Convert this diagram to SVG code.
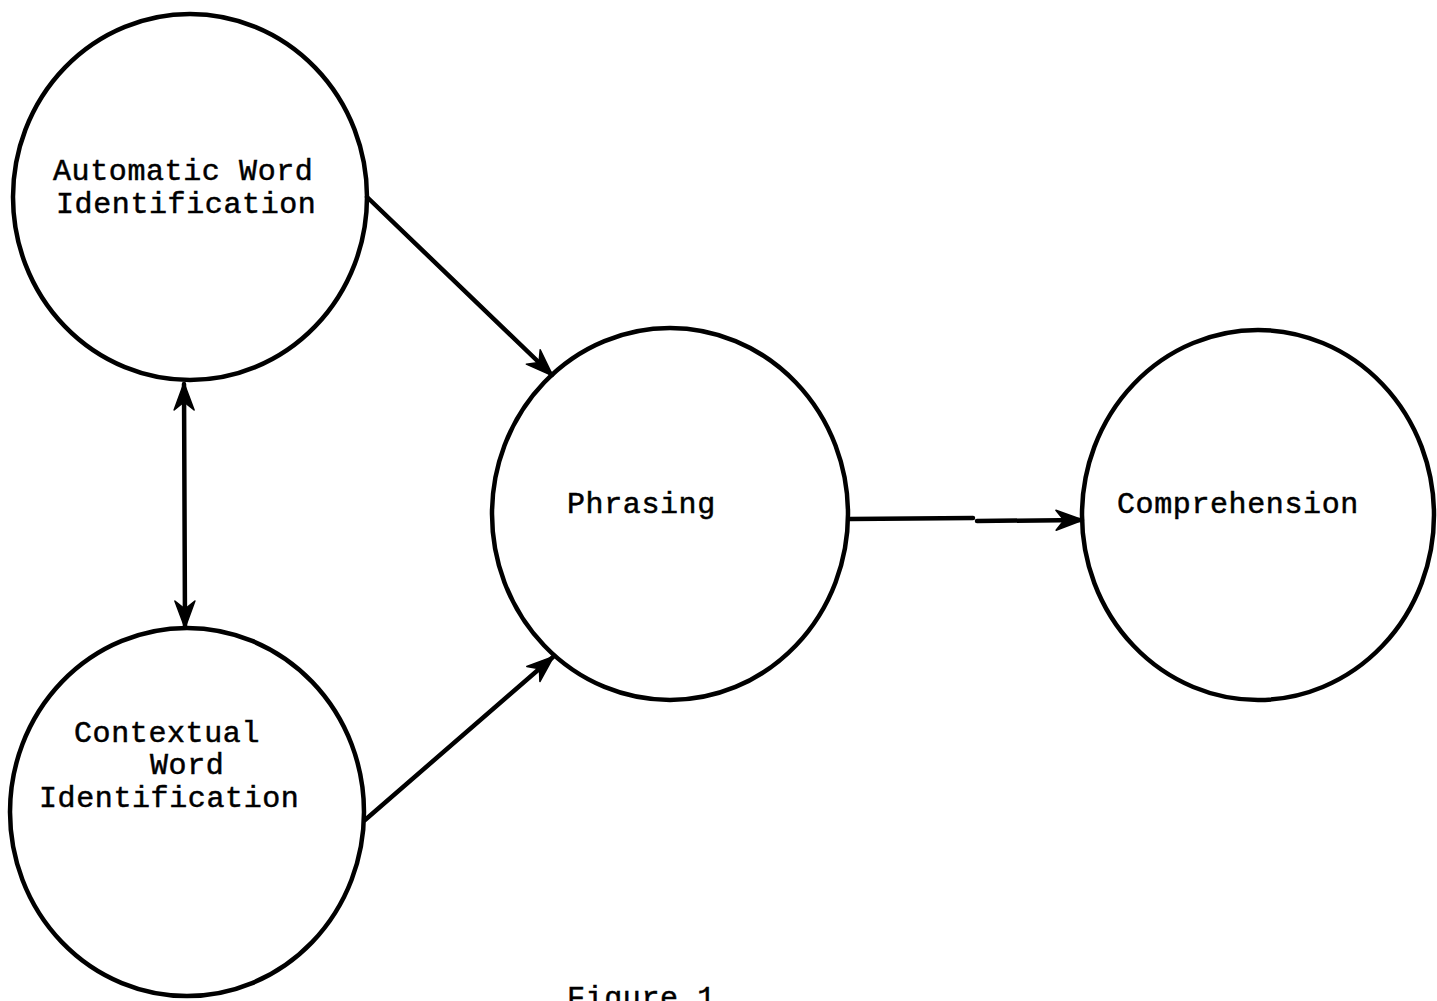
<svg xmlns="http://www.w3.org/2000/svg" width="1437" height="1001" viewBox="0 0 1437 1001">
<style>
.node{fill:none;stroke:#000;stroke-width:4.5}
.lbl{font-family:"Liberation Mono","DejaVu Sans Mono",monospace;font-size:30px;letter-spacing:0.6px;fill:#000;stroke:#000;stroke-width:0.5}
.edge{fill:none;stroke:#000;stroke-width:4.5;stroke-linecap:round}
</style>
<defs>
<marker id="ah" markerUnits="userSpaceOnUse" viewBox="-30 -12 32 24" refX="0" refY="0" markerWidth="32" markerHeight="24" orient="auto-start-reverse">
<path d="M1,0 L-26,-10 L-18,0 L-26,10 Z" fill="#000" stroke="#000" stroke-width="1.5" stroke-linejoin="round"/>
</marker>
</defs>
<rect width="1437" height="1001" fill="#fff"/>
<g id="n-automatic">
<ellipse class="node" cx="190" cy="197" rx="177" ry="183"/>
<text class="lbl" x="53" y="180">Automatic Word</text>
<text class="lbl" x="56" y="213">Identification</text>
</g>
<g id="n-contextual">
<ellipse class="node" cx="187" cy="812" rx="177" ry="184"/>
<text class="lbl" x="74" y="742">Contextual</text>
<text class="lbl" x="150" y="774">Word</text>
<text class="lbl" x="39" y="807">Identification</text>
</g>
<g id="n-phrasing">
<ellipse class="node" cx="670" cy="514" rx="178" ry="186"/>
<text class="lbl" x="567" y="513">Phrasing</text>
</g>
<g id="n-comprehension">
<ellipse class="node" cx="1258" cy="515" rx="176" ry="185"/>
<text class="lbl" x="1117" y="513">Comprehension</text>
</g>
<g id="connectors">
<line class="edge" x1="367" y1="197" x2="552" y2="375" marker-end="url(#ah)"/>
<line class="edge" x1="365" y1="820" x2="553" y2="657" marker-end="url(#ah)"/>
<line class="edge" x1="184" y1="384" x2="185" y2="627" marker-start="url(#ah)" marker-end="url(#ah)"/>
<path class="edge" d="M850,519 L973,518 M977,521 L1082,520" marker-end="url(#ah)"/>
</g>
<text class="lbl" x="567" y="1007">Figure 1</text>
</svg>
